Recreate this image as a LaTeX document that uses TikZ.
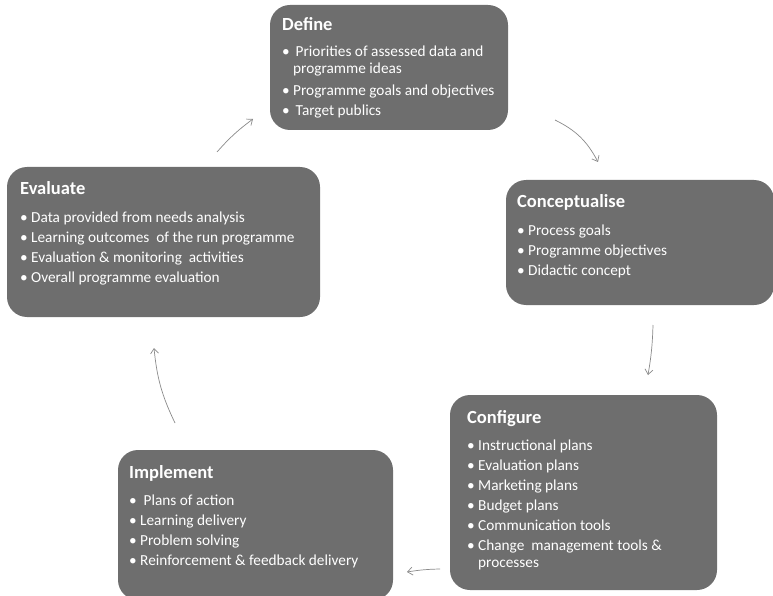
\documentclass[tikz,border=0pt]{standalone}
\usepackage{fontspec}
\setmainfont{Carlito}
\usetikzlibrary{arrows.meta,positioning}
\definecolor{boxgray}{HTML}{6E6E6E}
\definecolor{arrowgray}{HTML}{8A8A8A}
\newcommand{\phtitle}[1]{{\fontsize{18.5}{20}\selectfont\bfseries #1}}
\newcommand{\bul}{\makebox[11pt][l]{\textbullet}}
\newcommand{\hang}{\hspace*{11pt}}

\begin{document}
\begin{tikzpicture}[x=1pt,y=-1pt,
  phase/.style={fill=boxgray,rounded corners=20pt,inner sep=0pt},
  phasetext/.style={anchor=north west,inner sep=0pt,text=white,align=left,
    font=\fontsize{15.3}{20}\selectfont},
  cyc/.style={-{Straight Barb[length=5pt,width=8pt]},arrowgray,line width=0.7pt}]
\useasboundingbox (0,0) rectangle (773,596);

% the five phases
\node[phase,minimum width=238pt,minimum height=125pt] (define) at (389,67.5) {};
\node[phase,minimum width=268pt,minimum height=125pt] (concept) at (640,242.5) {};
\node[phase,minimum width=267pt,minimum height=195pt] (configure) at (583.5,492.5) {};
\node[phase,minimum width=275pt,minimum height=150pt] (implement) at (255.5,525) {};
\node[phase,minimum width=313pt,minimum height=150pt] (evaluate) at (163.5,242) {};

\node[phasetext] (defineText) at (282,17) {\phtitle{Define}\\[6pt]
  \bul\,Priorities of assessed data and\\[-3pt]
  \hang programme ideas\\[2pt]
  \bul Programme goals and objectives\\
  \bul\,Target publics};
\node[phasetext] (conceptText) at (517,194) {\phtitle{Conceptualise}\\[8pt]
  \bul Process goals\\
  \bul Programme objectives\\
  \bul Didactic concept};
\node[phasetext] (configureText) at (467,410) {\phtitle{Configure}\\[7pt]
  \bul Instructional plans\\
  \bul Evaluation plans\\
  \bul Marketing plans\\
  \bul Budget plans\\
  \bul Communication tools\\
  \bul Change\ \ management tools \&\\[-3pt]
  \hang processes};
\node[phasetext] (implementText) at (129,465) {\phtitle{Implement}\\[7pt]
  \bul\ Plans of action\\
  \bul Learning delivery\\
  \bul Problem solving\\
  \bul Reinforcement \& feedback delivery};
\node[phasetext] (evaluateText) at (20,181) {\phtitle{Evaluate}\\[8pt]
  \bul Data provided from needs analysis\\
  \bul Learning outcomes\ \ of the run programme\\
  \bul Evaluation \& monitoring\ \ activities\\
  \bul Overall programme evaluation};

% cycle arrows
\coordinate (a1) at (217,152); \coordinate (b1) at (253,119);
\coordinate (a2) at (555,120); \coordinate (b2) at (598,162);
\coordinate (a3) at (653,325); \coordinate (b3) at (648,375);
\coordinate (a4) at (440,569); \coordinate (b4) at (407,572);
\coordinate (a5) at (175,423); \coordinate (b5) at (154,348);
\draw[cyc] (a1) to[bend left=6] (b1);
\draw[cyc] (a2) to[bend left=18] (b2);
\draw[cyc] (a3) to[bend left=4] (b3);
\draw[cyc] (a4) to[bend right=4] (b4);
\draw[cyc] (a5) to[bend left=10] (b5);
\end{tikzpicture}
\end{document}
